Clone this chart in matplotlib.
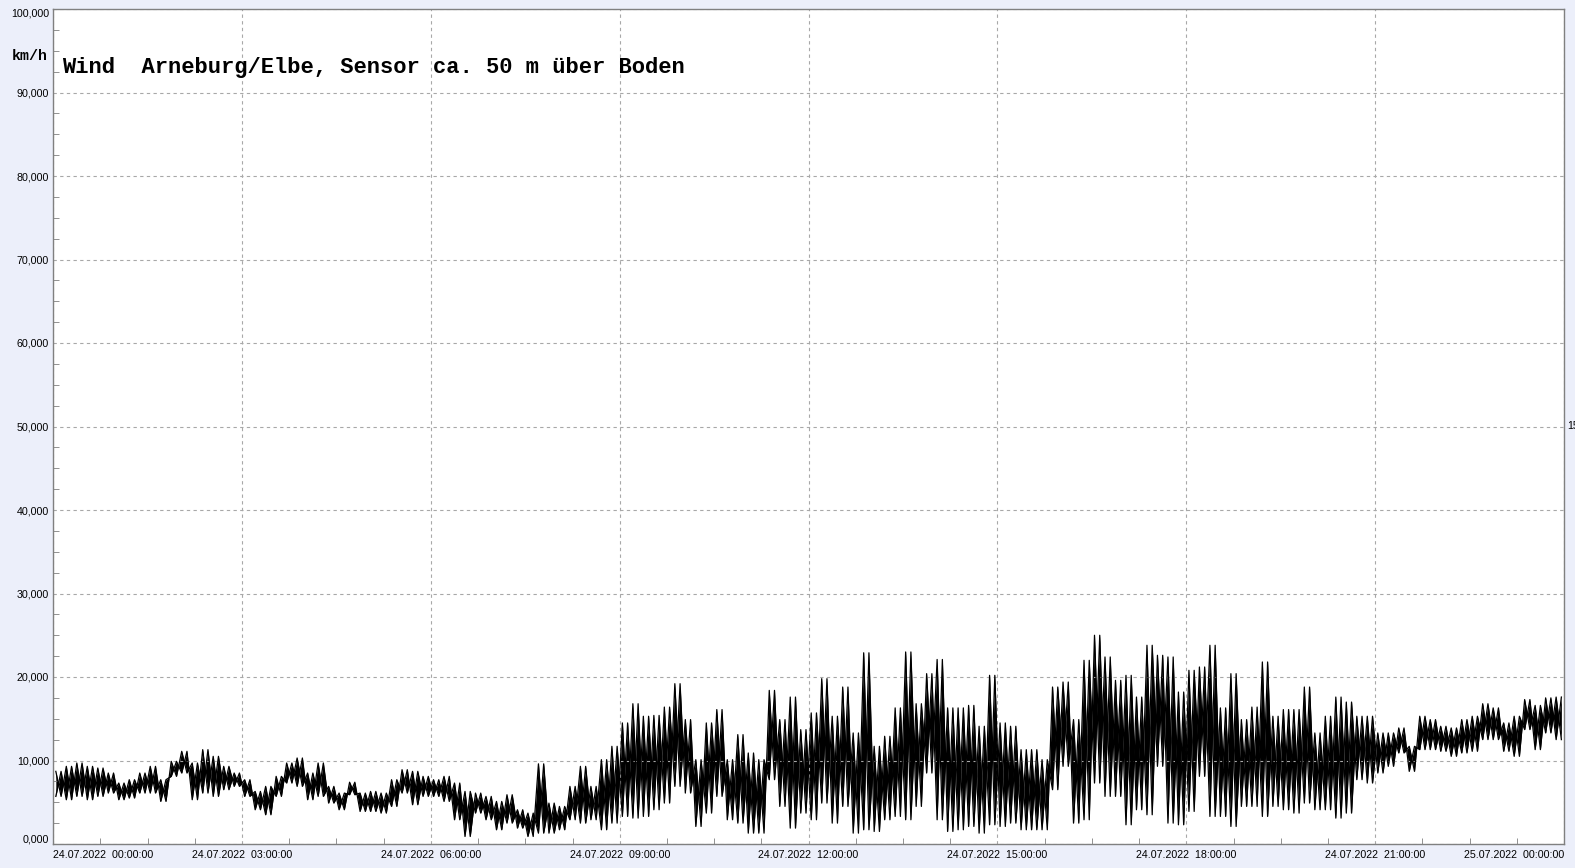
import numpy as np
import matplotlib.pyplot as plt
from matplotlib.ticker import MultipleLocator

# ==================================================
# Data (km/h) in 10-minute blocks:
# upper and lower envelope of the gusty signal
# ==================================================

BLOCK_MIN = 10

wind_hi = [
    8.7, 9.3, 9.7, 9.3, 9.1, 8.5, 7.3, 7.7, 8.5, 9.3, 7.7, 9.9,
    11.1, 9.7, 11.3, 10.5, 9.3, 8.5, 7.7, 6.3, 6.9, 8.1, 9.7, 10.3,
    8.5, 9.7, 6.9, 6.1, 7.4, 6.1, 6.3, 6.1, 7.7, 8.9, 8.7, 8.1,
    7.7, 8.1, 7.3, 6.3, 6.1, 5.7, 5.1, 5.9, 4.1, 3.7, 9.6, 4.9,
    4.5, 6.9, 9.3, 6.9, 10.1, 11.7, 14.5, 16.8, 15.3, 15.4, 16.4, 19.2,
    14.9, 10.1, 14.5, 16.1, 10.1, 13.1, 10.9, 10.1, 18.4, 14.9, 17.6, 13.7,
    15.7, 19.8, 15.3, 18.8, 13.3, 22.9, 11.7, 12.9, 16.3, 23.0, 16.8, 20.4,
    22.1, 16.3, 16.3, 16.6, 14.1, 20.2, 14.5, 14.1, 11.3, 11.3, 10.1, 18.8,
    19.4, 14.9, 22.0, 25.0, 22.4, 19.6, 20.2, 17.6, 23.8, 22.6, 22.4, 18.2,
    20.8, 21.2, 23.8, 16.3, 20.4, 14.9, 16.4, 21.8, 15.3, 16.1, 16.1, 18.8,
    13.3, 15.3, 17.6, 17.0, 15.3, 15.3, 13.3, 13.3, 13.9, 11.7, 15.3, 14.9,
    14.1, 13.9, 14.9, 15.3, 16.8, 16.3, 14.5, 15.3, 17.3, 16.6, 17.5, 17.6,
]

wind_lo = [
    5.7, 5.3, 5.7, 5.3, 5.7, 6.1, 5.3, 5.5, 6.1, 6.1, 5.1, 8.1,
    8.5, 5.3, 6.1, 5.7, 6.5, 6.9, 5.7, 4.1, 3.5, 5.7, 7.3, 6.9,
    5.3, 5.7, 4.9, 4.1, 5.9, 3.9, 3.9, 3.7, 4.5, 6.1, 4.7, 5.7,
    5.7, 5.1, 2.9, 0.9, 3.7, 2.9, 1.7, 2.5, 1.9, 0.9, 1.3, 1.3,
    1.7, 2.9, 2.5, 2.9, 1.7, 2.5, 3.3, 3.1, 3.3, 4.1, 4.9, 6.9,
    6.1, 2.1, 3.7, 5.7, 2.9, 2.5, 1.3, 1.3, 7.7, 4.5, 1.9, 3.7,
    2.9, 4.9, 2.5, 4.5, 1.3, 1.7, 1.5, 2.9, 3.3, 2.9, 4.5, 8.5,
    2.9, 1.5, 1.7, 2.1, 1.3, 2.3, 2.1, 2.5, 1.7, 1.7, 1.7, 6.5,
    9.3, 2.5, 2.9, 7.3, 5.7, 5.7, 2.3, 4.1, 3.5, 9.3, 2.5, 2.3,
    3.9, 8.1, 3.3, 3.3, 2.1, 4.5, 4.5, 3.3, 4.5, 4.1, 3.7, 4.9,
    4.1, 4.1, 3.1, 3.7, 7.7, 7.3, 8.5, 9.3, 10.9, 8.7, 11.3, 11.3,
    11.1, 10.5, 10.9, 11.1, 12.5, 12.5, 11.1, 10.5, 13.7, 11.3, 13.3, 12.5,
]

TITLE = "Wind  Arneburg/Elbe, Sensor ca. 50 m über Boden"
UNIT = "km/h"
x_ticks = [0, 3, 6, 9, 12, 15, 18, 21, 24]
x_labels = [
    "24.07.2022  00:00:00", "24.07.2022  03:00:00", "24.07.2022  06:00:00",
    "24.07.2022  09:00:00", "24.07.2022  12:00:00", "24.07.2022  15:00:00",
    "24.07.2022  18:00:00", "24.07.2022  21:00:00", "25.07.2022  00:00:00",
]
y_ticks = [0, 10, 20, 30, 40, 50, 60, 70, 80, 90, 100]
y_labels = ["0,000", "10,000", "20,000", "30,000", "40,000", "50,000",
            "60,000", "70,000", "80,000", "90,000", "100,000"]

# ==================================================
# Two opposite zigzags between the envelopes
# (hours since 24.07. 00:00); the area between them
# gives the dense, spiky trace of the logger plot
# ==================================================

hi = np.array(wind_hi)
lo = np.array(wind_lo)
step = BLOCK_MIN / 60.0
t0 = np.arange(len(hi)) * step

t = np.empty(2 * len(hi))
t[0::2] = t0 + 0.25 * step
t[1::2] = t0 + 0.75 * step

va = np.empty_like(t)
va[0::2] = hi
va[1::2] = lo
vb = np.empty_like(t)
vb[0::2] = lo
vb[1::2] = hi

# ==================================================
# Plot
# ==================================================

W, H = 1575, 868
fig = plt.figure(figsize=(W / 100, H / 100), dpi=100, facecolor="#eceffa")

left, right, top, bottom = 53.2, 1564, 9, 844
ax = fig.add_axes([left / W, 1 - bottom / H, (right - left) / W, (bottom - top) / H])
ax.set_facecolor("white")

ax.fill_between(t, va, vb, color="black", lw=0)
ax.plot(t, va, color="black", lw=0.9)
ax.plot(t, vb, color="black", lw=0.9)

ax.set_xlim(0, 24)
ax.set_ylim(0, 100)

frame_col = "#808080"
for s in ax.spines.values():
    s.set_color(frame_col)
    s.set_linewidth(1.0)

ax.set_xticks(x_ticks)
ax.set_xticklabels(x_labels, family="Liberation Sans", fontsize=7.7)
ax.xaxis.set_minor_locator(MultipleLocator(0.75))
ax.set_yticks(y_ticks)
ax.set_yticklabels(y_labels, family="Liberation Sans", fontsize=7.7)
ax.yaxis.set_minor_locator(MultipleLocator(2.5))

ax.tick_params(axis="both", which="both", direction="in", color=frame_col)
ax.tick_params(axis="both", which="major", length=0, pad=3)
ax.tick_params(axis="both", which="minor", length=4)
ax.tick_params(axis="x", which="major", pad=4)

xl = ax.get_xticklabels()
xl[0].set_horizontalalignment("left")
xl[-1].set_horizontalalignment("right")
yl = ax.get_yticklabels()
yl[0].set_verticalalignment("bottom")
yl[-1].set_verticalalignment("top")

ax.grid(True, which="major", color="#a8a8a8", linestyle=(0, (3, 3)), linewidth=0.8)

# titles
fig.text(62.3 / W, 1 - 67.3 / H, TITLE, family="Liberation Mono", weight="bold",
         fontsize=15.9, va="center", ha="left")
fig.text(12 / W, 1 - 55.5 / H, UNIT, family="Liberation Mono", weight="bold",
         fontsize=10.8, va="center", ha="left")
# label cut off by the right border in the original
fig.text(1567 / W, 1 - 426 / H, "15", family="Liberation Sans", fontsize=7.7,
         va="center", ha="left")

fig.savefig("out.png", dpi=100, facecolor=fig.get_facecolor())
